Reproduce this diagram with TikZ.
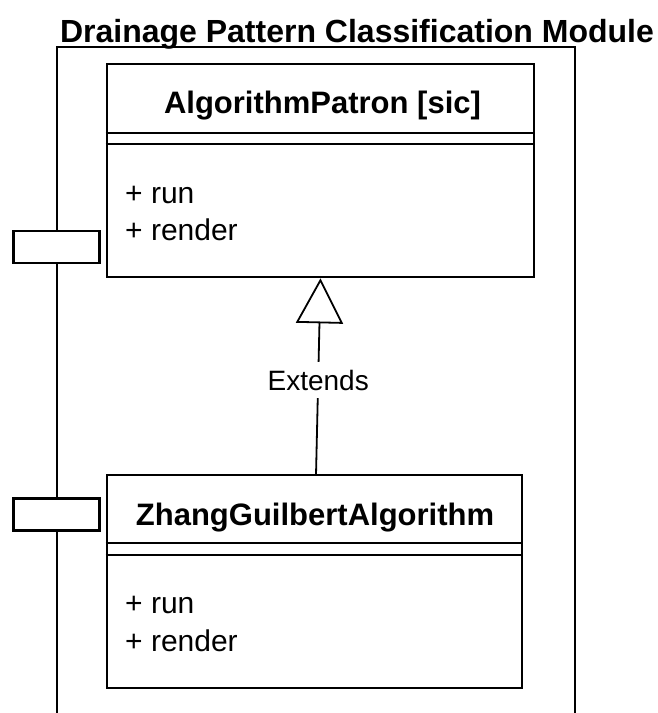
\documentclass[tikz,border=0pt]{standalone}
\usepackage{fontspec}
\setmainfont{Liberation Sans}
\usetikzlibrary{arrows.meta}

\begin{document}
\begin{tikzpicture}[x=1pt, y=-1pt,
  box/.style={draw=black, line width=2.6pt, rectangle, inner sep=0pt, fill=white},
  classbox/.style={box, minimum height=213pt},
  port/.style={box, minimum width=86pt, minimum height=32pt},
  sepline/.style={draw=black, line width=2.6pt},
  modtitle/.style={anchor=base, font=\fontsize{32}{38}\selectfont\bfseries},
  classname/.style={anchor=base, font=\fontsize{31}{37}\selectfont\bfseries},
  member/.style={anchor=base west, inner sep=0pt, font=\fontsize{30}{36}\selectfont},
  relation/.style={draw=black, line width=1.8pt,
    -{Triangle[open, length=45pt, width=47pt, line width=1.8pt]}},
  rellabel/.style={fill=white, inner xsep=2pt, inner ysep=8pt,
    font=\fontsize{28}{34}\selectfont}
]
\useasboundingbox (0,0) rectangle (658,713);
\clip (0,0) rectangle (658,713);

% module frame (continues below the page edge)
\node[box, fill=none, minimum width=518pt, minimum height=670pt] (module) at (316,382) {};
\node[modtitle] (module-title) at (357,42) {Drainage Pattern Classification Module};

% interface ports on the module border
\node[port] (port-a) at (56.5,247) {};
\node[port] (port-b) at (56.5,514.5) {};

% base class
\node[classbox, minimum width=427pt] (patron) at (320.5,170.5) {};
\draw[sepline] (patron.west |- 0,133) -- (patron.east |- 0,133);
\draw[sepline] (patron.west |- 0,144) -- (patron.east |- 0,144);
\node[classname] (patron-name) at (322.5,113) {AlgorithmPatron [sic]};
\node[member] (patron-run) at (125,203) {+ run};
\node[member] (patron-render) at (125,240) {+ render};

% derived class
\node[classbox, minimum width=415pt] (zhang) at (314.5,581.5) {};
\draw[sepline] (zhang.west |- 0,543) -- (zhang.east |- 0,543);
\draw[sepline] (zhang.west |- 0,555) -- (zhang.east |- 0,555);
\node[classname] (zhang-name) at (315,525) {ZhangGuilbertAlgorithm};
\node[member] (zhang-run) at (125,613) {+ run};
\node[member] (zhang-render) at (125,651) {+ render};

% generalisation arrow
\coordinate (ext-foot) at (316,475);
\draw[relation] (ext-foot) -- (patron.south);
\node[rellabel] (extends) at (318.2,380) {Extends};
\end{tikzpicture}
\end{document}
